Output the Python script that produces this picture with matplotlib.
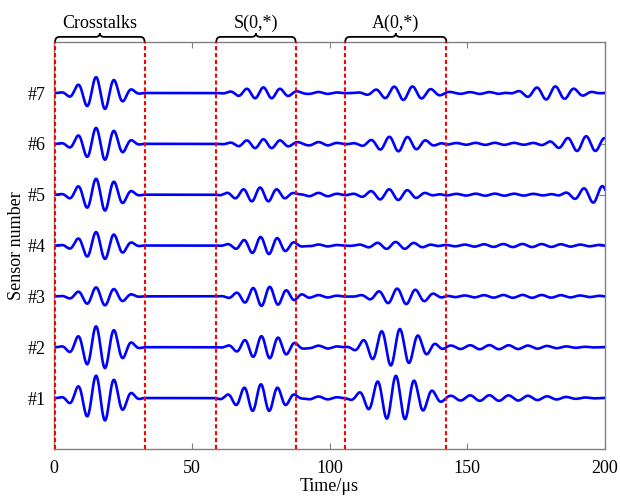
import numpy as np
import matplotlib
matplotlib.use('Agg')
import matplotlib.pyplot as plt
from matplotlib.path import Path
from matplotlib.patches import PathPatch
import matplotlib.transforms as mtransforms

plt.rcParams['font.family'] = ['Liberation Serif', 'DejaVu Serif']

sensors = ['#1', '#2', '#3', '#4', '#5', '#6', '#7']
x_ticks = [0, 50, 100, 150, 200]

# time gates (us) and their labels
gate_edges = [0.4, 32.9, 58.9, 87.7, 105.7, 142.4]
gate_labels = ['Crosstalks', 'S(0,*)', 'A(0,*)']

# wave packets per sensor (#1..#7): centre (us), amplitude, phase (deg)
# crosstalk burst (same timing for every sensor)
xt_center = 16.9
xt_period, xt_cycles = 6.6, 5
xt_amp = [0.45, 0.42, 0.18, 0.27, 0.32, 0.32, 0.32]

# S0 mode
s0_period, s0_cycles = 6.1, 6
s0_center = [75.1, 76.8, 76.8, 76.5, 74.8, 76.0, 76.0]
s0_amp = [0.27, 0.22, 0.19, 0.17, 0.14, 0.09, 0.11]
s0_phase = [0, 90, -90, 90, 0, 0, 0]

# A0 mode
a0_period, a0_cycles = 6.7, 6
a0_center = [124.1, 123.9, 126.2, 124.0, 123.3, 125.0, 126.8]
a0_amp = [0.43, 0.37, 0.155, 0.07, 0.11, 0.15, 0.13]
a0_phase = [0, -90, 90, 0, 90, 180, 180]

# late arrivals (boundary reflections)
late_period, late_cycles = 6.8, 6
late_center = [180.0, 180.0, 180.0, 180.0, 199.0, 193.1, 180.3]
late_amp = [0.0, 0.0, 0.0, 0.0, 0.17, 0.15, 0.14]
late_phase = [0, 0, 0, 0, 0, 0, -90]

# low-level ripple between S0/A0 and after A0
ripple_period = 7.0
mid_center, mid_cycles = 96.0, 4
mid_amp = [0.03, 0.03, 0.025, 0.02, 0.035, 0.035, 0.02]
tail_center = [158, 158, 170, 170, 160, 160, 158]
tail_cycles = 14
tail_amp = [0.055, 0.04, 0.028, 0.03, 0.02, 0.02, 0.018]


def burst(t, tc, amp, phase, period, cycles):
    half = period * cycles / 2
    u = (t - tc) / half
    win = np.where(np.abs(u) < 1, np.cos(np.pi * u / 2) ** 2, 0.0)
    return amp * win * np.cos(2 * np.pi * (t - tc) / period + np.deg2rad(phase))


t = np.linspace(0, 200, 4001)

fig = plt.figure(figsize=(6.2, 4.96), dpi=100)
ax = fig.add_axes([0.087, 0.095, 0.889, 0.820])

for i in range(len(sensors)):
    y = burst(t, xt_center, xt_amp[i], 90, xt_period, xt_cycles)
    y += burst(t, s0_center[i], s0_amp[i], s0_phase[i], s0_period, s0_cycles)
    y += burst(t, a0_center[i], a0_amp[i], a0_phase[i], a0_period, a0_cycles)
    y += burst(t, late_center[i], late_amp[i], late_phase[i], late_period, late_cycles)
    y += burst(t, mid_center, mid_amp[i], 0, ripple_period, mid_cycles)
    y += burst(t, tail_center[i], tail_amp[i], 0, ripple_period, tail_cycles)
    ax.plot(t, y + i + 1, color='#0000ff', lw=1.9, zorder=2)

for xe in gate_edges:
    ax.axvline(xe, color='#ff0000', lw=1.5, ls=(0, (2, 1.3)), zorder=3)

ax.set_xlim(0, 200)
ax.set_ylim(0, 8)
ax.set_xticks(x_ticks)
ax.set_yticks(range(1, len(sensors) + 1))
ax.set_yticklabels(sensors)
ax.tick_params(direction='in', length=4, color='#808080', labelsize=13,
               top=True, right=True, pad=6)
ax.tick_params(axis='x', pad=8)
for sp in ax.spines.values():
    sp.set_color('#808080')
    sp.set_linewidth(1.0)

ax.set_xlabel('Time/\u03bcs', fontsize=13, labelpad=1)
ax.set_ylabel('Sensor number', fontsize=13, labelpad=2)

# curly braces above the axes marking each gate
trans = mtransforms.blended_transform_factory(ax.transData, ax.transAxes)
yb, yd, yt = 1.013, 1.0, 1.022
r = 1.6
for k, label in enumerate(gate_labels):
    x0, x1 = gate_edges[2 * k], gate_edges[2 * k + 1]
    xm = (x0 + x1) / 2
    verts = [(x0, yd), (x0, yb), (x0 + r, yb),
             (xm - r, yb),
             (xm, yb), (xm, yt),
             (xm, yb), (xm + r, yb),
             (x1 - r, yb),
             (x1, yb), (x1, yd)]
    codes = [Path.MOVETO, Path.CURVE3, Path.CURVE3,
             Path.LINETO,
             Path.CURVE3, Path.CURVE3,
             Path.CURVE3, Path.CURVE3,
             Path.LINETO,
             Path.CURVE3, Path.CURVE3]
    ax.add_patch(PathPatch(Path(verts, codes), transform=trans, fill=False,
                           ec='black', lw=1.3, clip_on=False))
    ax.text(xm, 1.046, label, transform=trans, ha='center', va='center',
            fontsize=13)

fig.savefig('out.png', dpi=100)
